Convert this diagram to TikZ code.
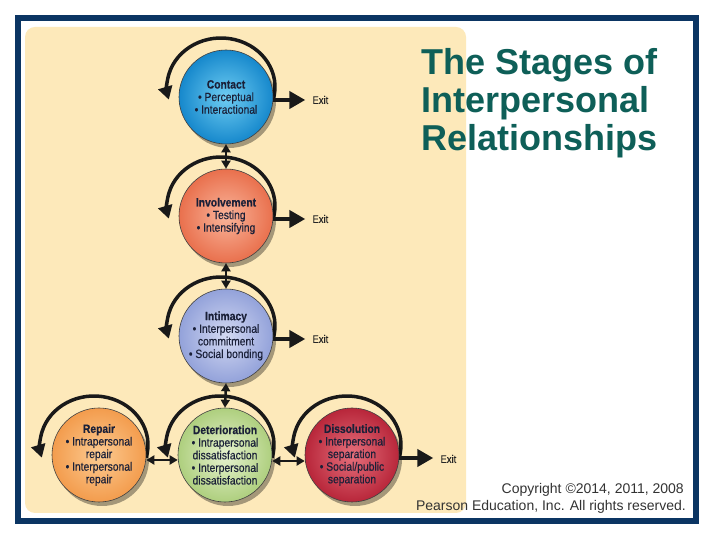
\documentclass[tikz,border=0pt]{standalone}
\usepackage{fontspec}
\usetikzlibrary{arrows.meta,calc,shadows}
\newfontfamily\condf[FakeStretch=0.86,FakeBold=0.4]{Liberation Sans}
\newfontfamily\arialf{Liberation Sans}
\definecolor{navyborder}{HTML}{0B3563}
\definecolor{panelcol}{HTML}{FDE9BA}
\definecolor{titlecol}{HTML}{0E5F58}
\definecolor{stagetxt}{HTML}{1A2038}
\pgfdeclarelayer{back}
\pgfdeclarelayer{bg}
\pgfsetlayers{back,bg,main}
\begin{document}
\begin{tikzpicture}[x=1bp,y=1bp,
  stage/.style={circle, minimum size=94bp, inner sep=0pt, draw=black!75, line width=0.6bp,
    align=center, text=stagetxt, font=\condf\fontsize{12bp}{12.6bp}\selectfont,
    drop shadow={shadow xshift=3bp, shadow yshift=-4bp, fill=black, opacity=0.35}},
  cyclearc/.style={line width=3.5bp, draw=black!90, -{Triangle[length=13bp,width=14bp]}},
  dblarrow/.style={line width=2.5bp, draw=black!90, {Triangle[length=8bp,width=9bp]}-{Triangle[length=8bp,width=9bp]}},
  exitarrow/.style={line width=4bp, draw=black!90, -{Triangle[length=16bp,width=17bp]}},
  exitlbl/.style={anchor=west, font=\condf\fontsize{11bp}{12bp}\selectfont, text=black!85, inner sep=0pt},
  titlelbl/.style={anchor=base west, font=\arialf\bfseries\fontsize{36bp}{38bp}\selectfont, text=titlecol, inner sep=0pt},
  copylbl/.style={anchor=base east, font=\arialf\fontsize{14bp}{16bp}\selectfont, text=black!80, inner sep=0pt},
]
\begin{pgfonlayer}{back}
\useasboundingbox (0,0) rectangle (720,540);
\fill[white] (0,0) rectangle (720,540);
\draw[navyborder, line width=6bp] (18,19) rectangle (696,522);
\fill[panelcol, rounded corners=10bp] (25,27) rectangle (466,513);
\end{pgfonlayer}

% stages
\node[stage, inner color={rgb,255:red,111;green,205;blue,242}, outer color={rgb,255:red,22;green,136;blue,204}] (contact) at (226,443)
  {{\bfseries Contact}\\• Perceptual\\• Interactional};
\node[stage, inner color={rgb,255:red,249;green,180;blue,154}, outer color={rgb,255:red,233;green,112;blue,77}] (involve) at (226,324)
  {{\bfseries Involvement}\\• Testing\\• Intensifying};
\node[stage, inner color={rgb,255:red,211;green,217;blue,242}, outer color={rgb,255:red,147;green,162;blue,218}] (intimacy) at (226,204)
  {{\bfseries Intimacy}\\• Interpersonal\\commitment\\• Social bonding};
\node[stage, inner color={rgb,255:red,252;green,203;blue,146}, outer color={rgb,255:red,243;green,156;blue,77}] (repair) at (99,85)
  {{\bfseries Repair}\\• Intrapersonal\\repair\\• Interpersonal\\repair};
\node[stage, inner color={rgb,255:red,230;green,242;blue,207}, outer color={rgb,255:red,174;green,207;blue,126}] (deter) at (225,85)
  {{\bfseries Deterioration}\\• Intrapersonal\\dissatisfaction\\• Interpersonal\\dissatisfaction};
\node[stage, inner color={rgb,255:red,229;green,112;blue,124}, outer color={rgb,255:red,184;green,38;blue,58}] (dissol) at (352,85)
  {{\bfseries Dissolution}\\• Interpersonal\\separation\\• Social/public\\separation};

% self loops behind
\begin{pgfonlayer}{bg}
\foreach \n in {contact,involve,intimacy,repair,deter,dissol}{
  \draw[cyclearc] (\n.center) ++(-5,10) ++(-15:54 and 49) arc[start angle=-15,end angle=195,x radius=54,y radius=49];
}
\end{pgfonlayer}

% connections
\draw[dblarrow] (contact.south) -- (involve.north);
\draw[dblarrow] (involve.south) -- (intimacy.north);
\draw[dblarrow] (intimacy.south) -- (deter.north);
\draw[dblarrow] ([yshift=-5bp]repair.east) -- ([yshift=-5bp]deter.west);
\draw[dblarrow] ([yshift=-6bp]deter.east) -- ([yshift=-6bp]dissol.west);

% exits
\draw[exitarrow] ([yshift=-3bp]contact.east) -- ++(32,0) coordinate (ex1);
\draw[exitarrow] ([yshift=-3bp]involve.east) -- ++(32,0) coordinate (ex2);
\draw[exitarrow] ([yshift=-3bp]intimacy.east) -- ++(32,0) coordinate (ex3);
\draw[exitarrow] ([yshift=-3bp]dissol.east) -- ++(34,0) coordinate (ex4);
\node[exitlbl] (exitA) at ($(ex1)+(7,0)$) {Exit};
\node[exitlbl] (exitB) at ($(ex2)+(7,0)$) {Exit};
\node[exitlbl] (exitC) at ($(ex3)+(7,0)$) {Exit};
\node[exitlbl] (exitD) at ($(ex4)+(7,-1)$) {Exit};

% title
\node[titlelbl] (t1) at (421,465) {The Stages of};
\node[titlelbl] (t2) at (421,427) {Interpersonal};
\node[titlelbl] (t3) at (421,389) {Relationships};

% copyright
\node[copylbl] (c1) at (684,46) {Copyright ©2014, 2011, 2008};
\node[copylbl] (c2) at (686,29) {Pearson Education, Inc. All rights reserved.};
\end{tikzpicture}
\end{document}
